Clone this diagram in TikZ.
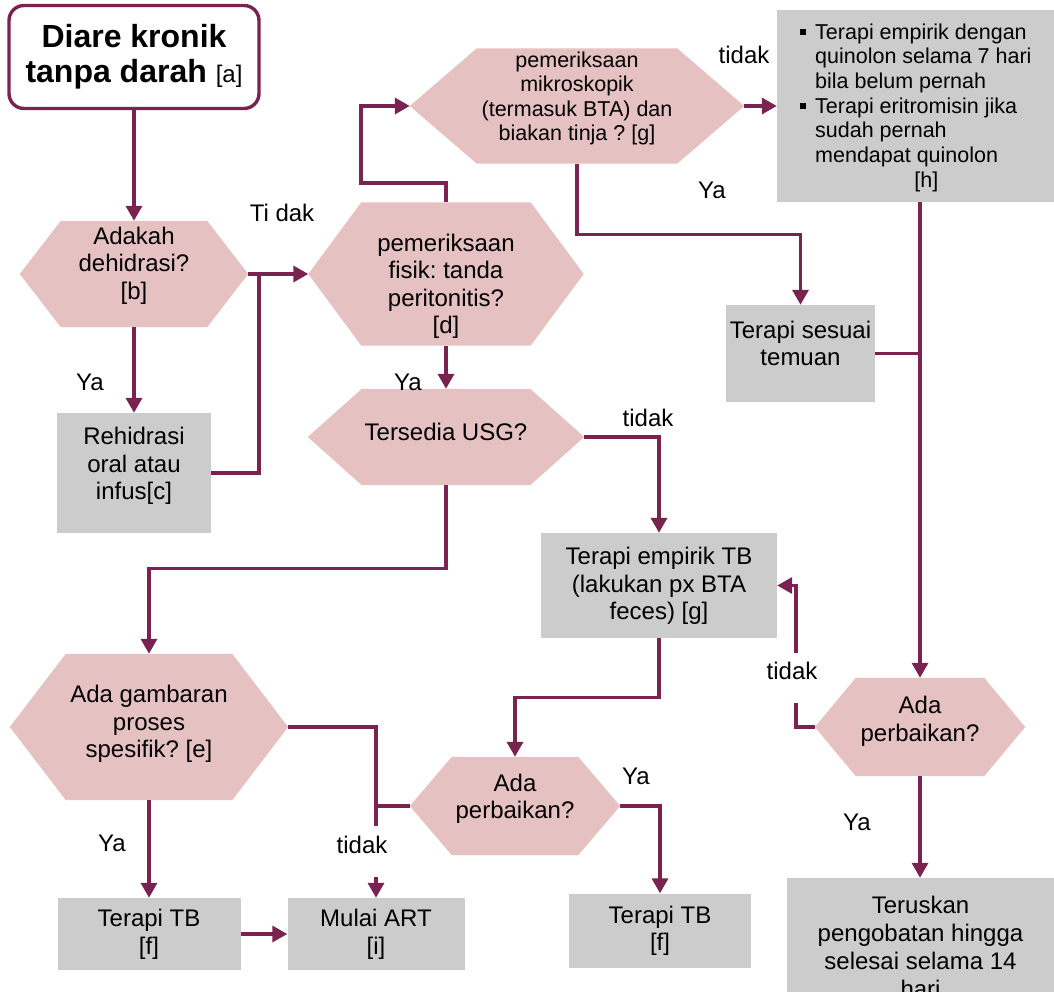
\documentclass[tikz,border=0pt]{standalone}
\usepackage{fontspec}
\setmainfont{Liberation Sans}
\usetikzlibrary{positioning,arrows.meta,calc}
\definecolor{maroon}{HTML}{7A2350}
\definecolor{hexpink}{HTML}{E6C1C1}
\definecolor{boxgray}{HTML}{CCCCCC}
\newcommand{\hexfill}[2]{\fill[hexpink] (#1.west) -- ([xshift=#2]#1.north west) -- ([xshift=-#2]#1.north east) -- (#1.east) -- ([xshift=-#2]#1.south east) -- ([xshift=#2]#1.south west) -- cycle;}
\newcommand{\bul}{\rule[4.5pt]{5.5pt}{5.5pt}}
\frenchspacing

\begin{document}
\begin{tikzpicture}[x=1pt,y=-1pt,>={Triangle[length=15pt,width=16pt]},
  flow/.style={draw=maroon,line width=3.4pt},
  hexa/.style={inner sep=0pt},
  box/.style={fill=boxgray,inner sep=0pt},
  txt/.style={align=center,inner sep=0pt,font=\fontsize{24}{27.5}\selectfont},
  lbl/.style={inner sep=0pt,font=\fontsize{24}{27.5}\selectfont}]
  \clip (0,0) rectangle (1054,992);
  % shapes
  \node[draw=maroon,line width=3.4pt,rounded corners=15pt,minimum width=250pt,minimum height=103pt,inner sep=0pt] (start) at (134,57) {};
  \node[hexa,minimum width=228pt,minimum height=106pt] (dehid) at (134,274) {}; \hexfill{dehid}{41pt}
  \node[box,minimum width=154pt,minimum height=120pt] (rehid) at (134,473) {};
  \node[hexa,minimum width=275pt,minimum height=143pt] (fisik) at (446,274) {}; \hexfill{fisik}{53pt}
  \node[hexa,minimum width=334pt,minimum height=115pt] (mikro) at (577,106) {}; \hexfill{mikro}{67pt}
  \node[box,minimum width=277pt,minimum height=192pt] (empq) at (915.5,106) {};
  \node[hexa,minimum width=276pt,minimum height=96pt] (usg) at (446,437) {}; \hexfill{usg}{54pt}
  \node[box,minimum width=149pt,minimum height=97pt] (sesuai) at (800.5,353.5) {};
  \node[box,minimum width=236pt,minimum height=105pt] (tbemp) at (659,585.5) {};
  \node[hexa,minimum width=210pt,minimum height=98pt] (perb1) at (920,727) {}; \hexfill{perb1}{41pt}
  \node[box,minimum width=267pt,minimum height=130pt] (terus) at (920.5,943) {};
  \node[hexa,minimum width=278pt,minimum height=146pt] (spes) at (149,727) {}; \hexfill{spes}{56pt}
  \node[hexa,minimum width=210pt,minimum height=98pt] (perb2) at (515,806) {}; \hexfill{perb2}{42pt}
  \node[box,minimum width=183pt,minimum height=72pt] (tbf1) at (149,934) {};
  \node[box,minimum width=177pt,minimum height=72pt] (art) at (376,934) {};
  \node[box,minimum width=182pt,minimum height=74pt] (tbf2) at (660,930.5) {};
  % texts
  \node[txt,font=\fontsize{32}{35}\selectfont\bfseries] (start-t) at (134,57) {Diare kronik\\tanpa darah {\fontsize{24}{27.5}\selectfont\mdseries [a]}};
  \node[txt] (dehid-t) at (134,265.5) {Adakah\\dehidrasi?\\{[b]}};
  \node[txt] (rehid-t) at (134,466) {Rehidrasi\\oral atau\\infus[c]};
  \node[txt] (fisik-t) at (446,286.5) {pemeriksaan\\fisik: tanda\\peritonitis?\\{[d]}};
  \node[txt,font=\fontsize{21.5}{24.5}\selectfont] (mikro-t) at (577,98.5) {pemeriksaan\\mikroskopik\\(termasuk BTA) dan\\biakan tinja ? [g]};
  \node[inner sep=0pt,anchor=north west,font=\fontsize{21.5}{24.7}\selectfont] (empq-t) at (800,21.7) {%
    \begin{tabular}{@{}l@{\hspace{9.5pt}}l@{}}
      \bul & Terapi empirik dengan\\
           & quinolon selama 7 hari\\
           & bila belum pernah\\
      \bul & Terapi eritromisin jika\\
           & sudah pernah\\
           & mendapat quinolon\\
           & \multicolumn{1}{c@{}}{[h]}
    \end{tabular}};
  \node[txt] (usg-t) at (446,432) {Tersedia USG?};
  \node[txt] (sesuai-t) at (800.5,343.5) {Terapi sesuai\\temuan};
  \node[txt] (tbemp-t) at (659,586) {Terapi empirik TB\\(lakukan px BTA\\feces) [g]};
  \node[txt] (perb1-t) at (920,721.5) {Ada\\perbaikan?};
  \node[txt,font=\fontsize{24}{28}\selectfont] (terus-t) at (920.5,946.5) {Teruskan\\pengobatan hingga\\selesai selama 14\\hari};
  \node[txt] (spes-t) at (149,724) {Ada gambaran\\proses\\spesifik? [e]};
  \node[txt] (perb2-t) at (515,799) {Ada\\perbaikan?};
  \node[txt] (tbf1-t) at (149,934.5) {Terapi TB\\{[f]}};
  \node[txt] (art-t) at (376,934.5) {Mulai ART\\{[i]}};
  \node[txt] (tbf2-t) at (660,931) {Terapi TB\\{[f]}};
  % connectors
  \coordinate (j1) at (259,274);
  \coordinate (j2) at (361,183);
  \coordinate (j5) at (376,826);
  \coordinate (j6) at (376,877);
  \coordinate (j7) at (796,703);
  \coordinate (j8) at (796,653);
  \draw[flow,->] (start) -- (dehid);
  \draw[flow,->] (dehid) -- (rehid);
  \draw[flow,->] (dehid.east) -- (fisik.west);
  \draw[flow] (rehid.east) -| (j1);
  \draw[flow,->] (fisik.north) |- (j2) |- (mikro.west);
  \draw[flow,->] (mikro.east) -- (empq);
  \draw[flow,->] (mikro.south) -- ++(0,71) -| (sesuai.north);
  \draw[flow,->] (empq.south -| perb1.north) -- (perb1.north);
  \draw[flow] (sesuai.east) -- (sesuai.east -| perb1.north);
  \draw[flow,->] (perb1.south) -- (perb1.south |- terus.north);
  \draw[flow] (perb1.west) -| (j7);
  \draw[flow,->] (j8) |- (tbemp.east);
  \draw[flow,->] (fisik.south) -- (usg.north);
  \draw[flow,->] (usg.east) -| (tbemp.north);
  \draw[flow,->] (usg.south) -- ++(0,83) -| (spes.north);
  \draw[flow,->] (spes.south) -- (tbf1.north);
  \draw[flow,->] (tbf1.east) -- (art.west);
  \draw[flow] (spes.east) -| (j5);
  \draw[flow] (perb2.west) -- (perb2.west -| j5);
  \draw[flow,->] (j6) -- (art.north);
  \draw[flow,->] (tbemp.south) -- ++(0,59) -| (perb2.north);
  \draw[flow,->] (perb2.east) -| (tbf2.north);
  % labels
  \node[lbl] (tidak-1) at (282,213) {Ti dak};
  \node[lbl] (ya-1) at (90,382) {Ya};
  \node[lbl] (ya-2) at (408,382) {Ya};
  \node[lbl] (tidak-2) at (744,55) {tidak};
  \node[lbl] (ya-3) at (712,190) {Ya};
  \node[lbl] (tidak-3) at (648,418) {tidak};
  \node[lbl] (ya-4) at (112,843) {Ya};
  \node[lbl] (tidak-4) at (362,845) {tidak};
  \node[lbl] (ya-5) at (636,776) {Ya};
  \node[lbl] (tidak-5) at (792,671) {tidak};
  \node[lbl] (ya-6) at (857,822) {Ya};
\end{tikzpicture}
\end{document}
